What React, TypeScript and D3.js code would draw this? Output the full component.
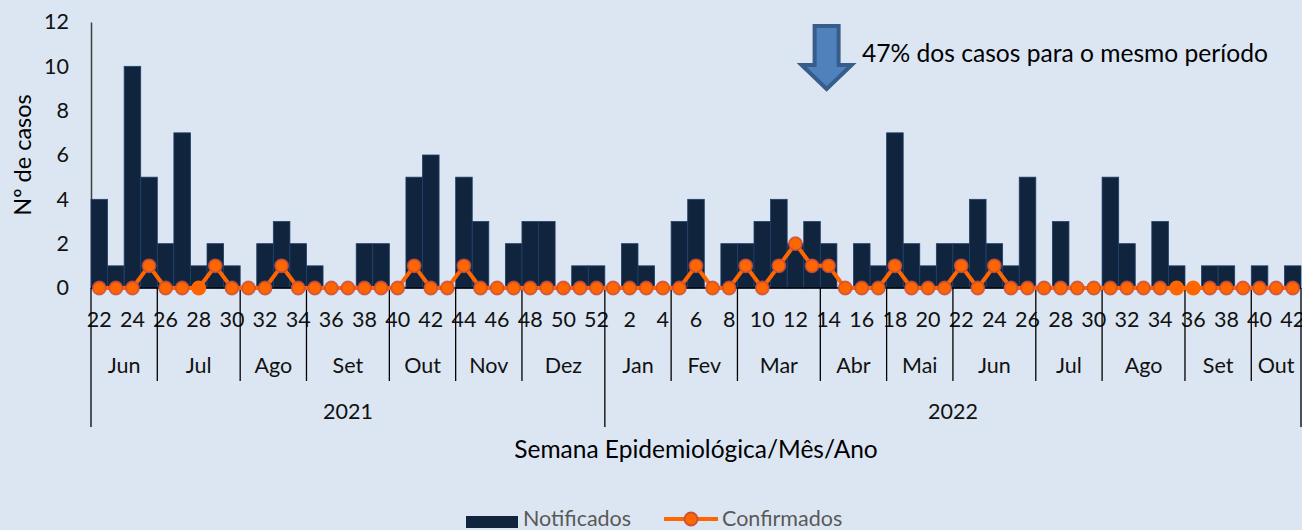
import React, { useEffect, useRef } from 'react';
import * as d3 from 'd3';

// epidemiological weeks
const weeks2021 = ['22', '23', '24', '25', '26', '27', '28', '29', '30', '31', '32', '33', '34', '35', '36', '37',
  '38', '39', '40', '41', '42', '43', '44', '45', '46', '47', '48', '49', '50', '51', '52'];
const weeks2022 = ['1', '2', '3', '4', '5', '6', '7', '8', '9', '10', '11', '12', '13', '14', '15', '16', '17',
  '18', '19', '20', '21', '22', '23', '24', '25', '26', '27', '28', '29', '30', '31', '32', '33', '34', '35',
  '36', '37', '38', '39', '40', '41', '42'];

const months2021 = ['Jun', 'Jul', 'Ago', 'Set', 'Out', 'Nov', 'Dez'];
const monthWeeks2021 = [4, 5, 4, 5, 4, 4, 5];
const months2022 = ['Jan', 'Fev', 'Mar', 'Abr', 'Mai', 'Jun', 'Jul', 'Ago', 'Set', 'Out'];
const monthWeeks2022 = [4, 4, 5, 4, 4, 5, 4, 5, 4, 3];
const years = ['2021', '2022'];

const notificados2021 = [4, 1, 10, 5, 2, 7, 1, 2, 1, 0, 2, 3, 2, 1, 0, 0, 2, 2, 0, 5, 6, 0, 5, 3, 0, 2, 3, 3, 0, 1, 1];
const notificados2022 = [0, 2, 1, 0, 3, 4, 0, 2, 2, 3, 4, 2, 3, 2, 0, 2, 1, 7, 2, 1, 2, 2, 4, 2, 1, 5, 0, 3, 0, 0,
  5, 2, 0, 3, 1, 0, 1, 1, 0, 1, 0, 1];
const confirmados2021 = [0, 0, 0, 1, 0, 0, 0, 1, 0, 0, 0, 1, 0, 0, 0, 0, 0, 0, 0, 1, 0, 0, 1, 0, 0, 0, 0, 0, 0, 0, 0];
const confirmados2022 = [0, 0, 0, 0, 0, 1, 0, 0, 1, 0, 1, 2, 1, 1, 0, 0, 0, 1, 0, 0, 0, 1, 0, 1, 0,
  0, 0, 0, 0, 0, 0, 0, 0, 0, 0, 0, 0, 0, 0, 0, 0, 0];
// points drawn without border in the original
const plainPoints = [6, 65, 66];

const yTicks = [0, 2, 4, 6, 8, 10, 12];
const annotation = '47% dos casos para o mesmo período';

export default function App() {
  const ref = useRef<SVGSVGElement | null>(null);

  useEffect(() => {
    if (!ref.current) return;
    const svg = d3.select(ref.current);
    svg.selectAll('*').remove();

    const W = 1302, H = 530;
    const font = 'Lato, "Open Sans", sans-serif';
    const weeks = [...weeks2021, ...weeks2022];
    const notificados = [...notificados2021, ...notificados2022];
    const confirmados = [...confirmados2021, ...confirmados2022];
    const idx = d3.range(weeks.length);

    svg.append('rect').attr('width', W).attr('height', H).attr('fill', '#dce6f2');

    const x = d3.scaleBand<number>().domain(idx).range([91, 1301]).padding(0);
    const y = d3.scaleLinear().domain([0, 12]).range([288, 22]);
    const bw = x.bandwidth();
    const cx = (i: number) => (x(i) as number) + bw / 2;

    // y axis
    const yAxis = svg.append('g')
      .attr('transform', `translate(${x.range()[0]},0)`)
      .call(d3.axisLeft(y).tickValues(yTicks).tickSize(0).tickSizeOuter(0).tickPadding(22));
    yAxis.select('.domain').attr('stroke', '#3f3f3f').attr('stroke-width', 1.5);
    yAxis.selectAll('text')
      .attr('font-family', font).attr('font-size', 21.5).attr('fill', '#111');

    svg.append('text')
      .attr('transform', `translate(31,${(y(0) + y(12)) / 2}) rotate(-90)`)
      .attr('text-anchor', 'middle')
      .attr('font-family', font).attr('font-size', 23.5).attr('fill', '#000')
      .text('Nº de casos');

    // bars
    svg.selectAll('.bar')
      .data(notificados)
      .enter().append('rect')
      .attr('x', (d, i) => x(i) as number)
      .attr('y', d => y(d))
      .attr('width', bw)
      .attr('height', d => y(0) - y(d))
      .attr('fill', '#10243e')
      .attr('stroke', '#20406a')
      .attr('stroke-width', 0.8);

    // x baseline
    svg.append('line')
      .attr('x1', x.range()[0]).attr('x2', x.range()[1])
      .attr('y1', y(0)).attr('y2', y(0))
      .attr('stroke', '#000').attr('stroke-width', 1.5);

    // week labels (every other week)
    svg.selectAll('.wk')
      .data(idx.filter(i => +weeks[i] % 2 === 0))
      .enter().append('text')
      .attr('x', i => cx(i))
      .attr('y', 327)
      .attr('text-anchor', 'middle')
      .attr('font-family', font).attr('font-size', 21.5).attr('fill', '#111')
      .text(i => weeks[i]);

    // months
    const monthGroups: { label: string, start: number, n: number }[] = [];
    let s = 0;
    months2021.forEach((m, k) => { monthGroups.push({ label: m, start: s, n: monthWeeks2021[k] }); s += monthWeeks2021[k]; });
    const yearSplit = s;
    months2022.forEach((m, k) => { monthGroups.push({ label: m, start: s, n: monthWeeks2022[k] }); s += monthWeeks2022[k]; });

    const edge = (i: number) => i >= weeks.length ? x.range()[1] : (x(i) as number);

    monthGroups.forEach(g => {
      svg.append('text')
        .attr('x', (edge(g.start) + edge(g.start + g.n)) / 2)
        .attr('y', 373)
        .attr('text-anchor', 'middle')
        .attr('font-family', font).attr('font-size', 21.5).attr('fill', '#111')
        .text(g.label);
      if (g.start !== 0 && g.start !== yearSplit) {
        svg.append('line')
          .attr('x1', edge(g.start)).attr('x2', edge(g.start))
          .attr('y1', y(0)).attr('y2', 381)
          .attr('stroke', '#000').attr('stroke-width', 1.3);
      }
    });

    [0, yearSplit, weeks.length].forEach(i => {
      svg.append('line')
        .attr('x1', edge(i)).attr('x2', edge(i))
        .attr('y1', y(0)).attr('y2', 427)
        .attr('stroke', '#000').attr('stroke-width', 1.3);
    });

    const yearSpans = [[0, yearSplit], [yearSplit, weeks.length]];
    years.forEach((yr, k) => {
      svg.append('text')
        .attr('x', (edge(yearSpans[k][0]) + edge(yearSpans[k][1])) / 2)
        .attr('y', 419)
        .attr('text-anchor', 'middle')
        .attr('font-family', font).attr('font-size', 21.5).attr('fill', '#111')
        .text(yr);
    });

    svg.append('text')
      .attr('x', (x.range()[0] + x.range()[1]) / 2)
      .attr('y', 458)
      .attr('text-anchor', 'middle')
      .attr('font-family', font).attr('font-size', 24.5).attr('fill', '#000')
      .text('Semana Epidemiológica/Mês/Ano');

    // confirmed line
    svg.append('path')
      .datum(confirmados)
      .attr('fill', 'none')
      .attr('stroke', '#ff6600')
      .attr('stroke-width', 4)
      .attr('stroke-linejoin', 'round')
      .attr('d', d3.line<number>().x((d, i) => cx(i)).y(d => y(d)));

    svg.selectAll('.pt')
      .data(confirmados)
      .enter().append('circle')
      .attr('cx', (d, i) => cx(i))
      .attr('cy', d => y(d))
      .attr('r', (d, i) => plainPoints.includes(i) ? 7.5 : 6.5)
      .attr('fill', '#ff6600')
      .attr('stroke', (d, i) => plainPoints.includes(i) ? 'none' : '#c8503f')
      .attr('stroke-opacity', 0.85)
      .attr('stroke-width', 1.8);

    // annotation arrow
    const ax = cx(44) - 2;
    const arrow = d3.path();
    arrow.moveTo(ax - 12, 26);
    arrow.lineTo(ax + 12, 26);
    arrow.lineTo(ax + 12, 65);
    arrow.lineTo(ax + 25, 65);
    arrow.lineTo(ax, 89);
    arrow.lineTo(ax - 25, 65);
    arrow.lineTo(ax - 12, 65);
    arrow.closePath();
    svg.append('path')
      .attr('d', arrow.toString())
      .attr('fill', '#4f81bd')
      .attr('stroke', '#385d8a')
      .attr('stroke-width', 4)
      .attr('stroke-linejoin', 'miter');

    svg.append('text')
      .attr('x', 862).attr('y', 62)
      .attr('font-family', font).attr('font-size', 24.6).attr('fill', '#000')
      .text(annotation);

    // legend
    const lg = svg.append('g');
    lg.append('rect').attr('x', 466).attr('y', 516).attr('width', 52).attr('height', 12).attr('fill', '#10243e');
    lg.append('text').attr('x', 523).attr('y', 526)
      .attr('font-family', font).attr('font-size', 21.5).attr('fill', '#595959').text('Notificados');
    lg.append('line').attr('x1', 664).attr('x2', 718).attr('y1', 519).attr('y2', 519)
      .attr('stroke', '#ff6600').attr('stroke-width', 4);
    lg.append('circle').attr('cx', 691).attr('cy', 519).attr('r', 6.5)
      .attr('fill', '#ff6600').attr('stroke', '#c8503f').attr('stroke-width', 1.8);
    lg.append('text').attr('x', 722).attr('y', 526)
      .attr('font-family', font).attr('font-size', 21.5).attr('fill', '#595959').text('Confirmados');
  }, []);

  return (
    <div style={{ position: 'absolute', left: 0, top: 0 }}>
      <svg ref={ref} width={1302} height={530} style={{ display: 'block' }} />
    </div>
  );
}
